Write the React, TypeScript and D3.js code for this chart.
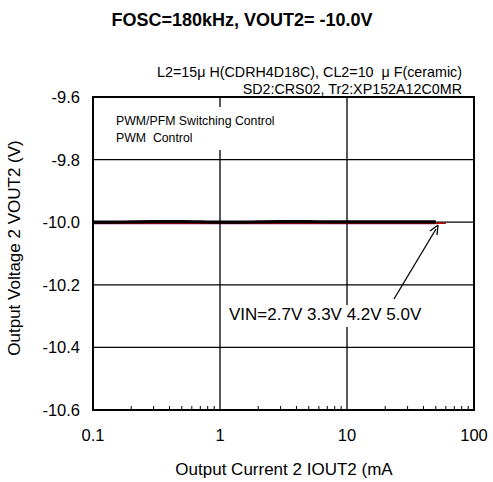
import React from "react";
import * as d3 from "d3";

const currents = [0.1, 0.15, 0.2, 0.3, 0.5, 0.7, 1, 1.5, 2, 3, 5, 7, 10, 15, 20, 30, 50];
const vin27 = [-10.003, -10.003, -10.003, -10.003, -10.003, -10.003, -10.003, -10.003, -10.003, -10.003, -10.003, -10.003, -10.003, -10.003, -10.003, -10.003, -10.003];
const vin33 = [-10.004, -10.004, -10.004, -10.004, -10.004, -10.004, -10.004, -10.004, -10.004, -10.004, -10.004, -10.004, -10.004, -10.004, -10.004, -10.004, -10.004];
const currents42 = [0.1, 0.2, 0.5, 1, 2, 5, 10, 20, 50, 60];
const vin42 = [-10.003, -10.003, -10.003, -10.003, -10.003, -10.003, -10.003, -10.003, -10.003, -10.003];
const vin50 = [-10.0, -10.0, -9.999, -9.998, -9.998, -9.999, -10.0, -10.0, -9.999, -9.998, -9.998, -9.999, -9.999, -9.999, -9.999, -9.999, -9.999];

const yTicks = [-9.6, -9.8, -10.0, -10.2, -10.4, -10.6];
const xTicks = [0.1, 1, 10, 100];
const seriesNames = ["VIN=2.7V", "3.3V", "4.2V", "5.0V"];

export default function App() {
  const left = 93, right = 474, top = 97, bottom = 410;
  const x = d3.scaleLog().domain([0.1, 100]).range([left, right]);
  const y = d3.scaleLinear().domain([-10.6, -9.6]).range([bottom, top]);
  const font = "'Liberation Sans', Arial, sans-serif";

  const line = d3.line<[number, number]>().x(d => x(d[0])).y(d => y(d[1])).curve(d3.curveMonotoneX);

  const minor: number[] = [];
  [0.1, 1, 10].forEach(d => { for (let k = 2; k <= 9; k++) minor.push(d * k); });

  const series = [
    { xs: currents, ys: vin27, color: "#008b8b", w: 1.5 },
    { xs: currents, ys: vin33, color: "#800080", w: 1.5 },
    { xs: currents42, ys: vin42, color: "#b00000", w: 1.5 },
    { xs: currents, ys: vin50, color: "#000000", w: 3.2 },
  ];

  return (
    <svg width={493} height={482} style={{ position: "absolute", left: 0, top: 0 }} fontFamily={font}>
      <rect width={493} height={482} fill="#fff" />
      <text x={242} y={26} textAnchor="middle" fontSize={18} fontWeight="bold">FOSC=180kHz, VOUT2= -10.0V</text>
      <text x={462} y={77} textAnchor="end" fontSize={14.3} style={{ whiteSpace: "pre" }}>L2=15μ H(CDRH4D18C), CL2=10  μ F(ceramic)</text>
      <text x={462} y={94} textAnchor="end" fontSize={14.3} style={{ whiteSpace: "pre" }}>SD2:CRS02, Tr2:XP152A12C0MR</text>

      {yTicks.map(t => (
        <line key={"gy" + t} x1={left} x2={right} y1={y(t)} y2={y(t)} stroke="#000" strokeWidth={1.3} />
      ))}
      {xTicks.map(t => (
        <line key={"gx" + t} x1={x(t)} x2={x(t)} y1={top} y2={bottom} stroke="#000" strokeWidth={1.3} />
      ))}
      {minor.map((m, i) => (
        <line key={"m" + i} x1={x(m)} x2={x(m)} y1={bottom} y2={bottom - 4} stroke="#000" strokeWidth={1} />
      ))}

      <rect x={110} y={107} width={172} height={43} fill="#fff" />
      <text x={116} y={125} fontSize={12.3} style={{ whiteSpace: "pre" }}>PWM/PFM Switching Control</text>
      <text x={116} y={142} fontSize={12.3} style={{ whiteSpace: "pre" }}>PWM  Control</text>

      {series.map((s, i) => (
        <path key={seriesNames[i]} d={line(s.xs.map((v, j) => [v, s.ys[j]] as [number, number])) || ""}
          fill="none" stroke={s.color} strokeWidth={s.w} />
      ))}

      <rect x={left} y={top} width={right - left} height={bottom - top} fill="none" stroke="#000" strokeWidth={2} />

      <rect x={226} y={305} width={200} height={22} fill="#fff" />
      <text x={229} y={320} fontSize={17}>{seriesNames.join(" ")}</text>
      <line x1={394} y1={299} x2={436} y2={229} stroke="#000" strokeWidth={1.3} />
      <path d="M 438 225 L 430 231 M 438 225 L 437 235" stroke="#000" strokeWidth={1.3} fill="none" />

      {yTicks.map(t => (
        <text key={"ty" + t} x={80} y={y(t) + 6} textAnchor="end" fontSize={16.5}>{t.toFixed(1)}</text>
      ))}
      {xTicks.map(t => (
        <text key={"tx" + t} x={x(t)} y={441} textAnchor="middle" fontSize={16.5}>{String(t)}</text>
      ))}
      <text x={284} y={475} textAnchor="middle" fontSize={17}>Output Current 2 IOUT2 (mA</text>
      <text transform="translate(20,248) rotate(-90)" textAnchor="middle" fontSize={17}>Output Voltage 2 VOUT2 (V)</text>
    </svg>
  );
}
